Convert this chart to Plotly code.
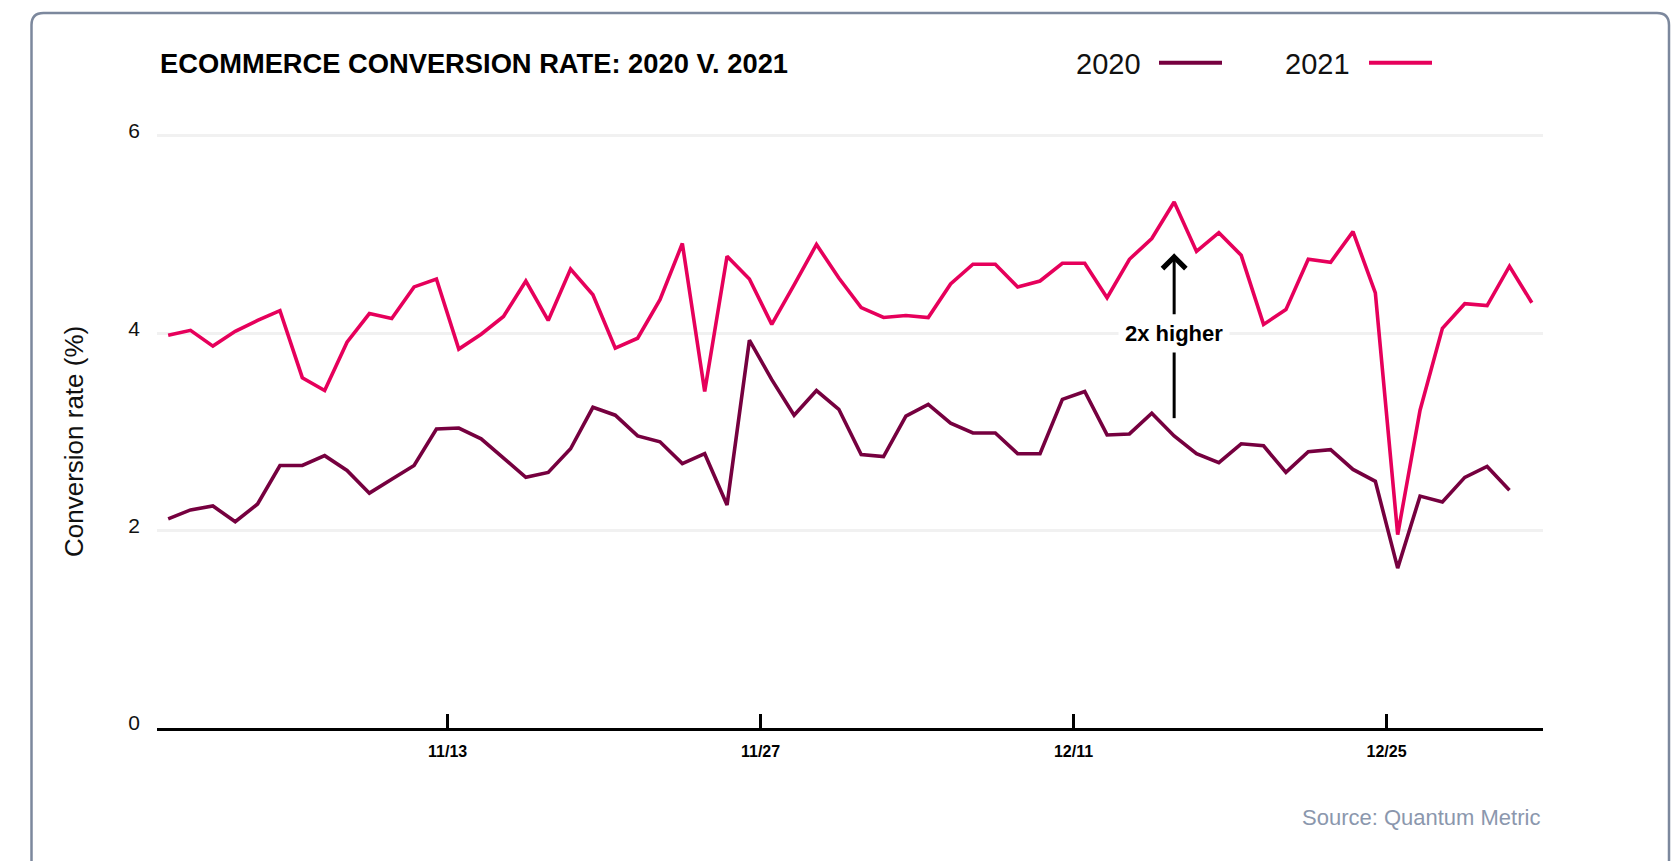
import pandas as pd
import plotly.graph_objects as go

# ---------------- data ----------------
dates = pd.date_range("2021-10-31 12:00", "2021-12-31 12:00", freq="D")

rate_2021 = [3.98, 4.03, 3.87, 4.02, 4.13, 4.23, 3.55, 3.42, 3.91, 4.20,
             4.15, 4.47, 4.55, 3.84, 3.99, 4.17, 4.53, 4.13, 4.65, 4.39,
             3.85, 3.95, 4.34, 4.91, 3.41, 4.78, 4.55, 4.09, 4.49, 4.90,
             4.56, 4.26, 4.16, 4.18, 4.16, 4.50, 4.70, 4.70, 4.47, 4.53,
             4.71, 4.71, 4.36, 4.75, 4.96, 5.33, 4.83, 5.02, 4.79, 4.09,
             4.24, 4.75, 4.72, 5.03, 4.41, 1.96, 3.22, 4.05, 4.30, 4.28,
             4.68, 4.31]

rate_2020 = [2.12, 2.21, 2.25, 2.09, 2.27, 2.66, 2.66, 2.76, 2.61, 2.38,
             2.52, 2.66, 3.03, 3.04, 2.93, 2.73, 2.54, 2.59, 2.83, 3.25,
             3.17, 2.96, 2.90, 2.68, 2.78, 2.26, 3.93, 3.53, 3.17, 3.42,
             3.23, 2.77, 2.75, 3.16, 3.28, 3.09, 2.99, 2.99, 2.78, 2.78,
             3.33, 3.41, 2.97, 2.98, 3.19, 2.96, 2.78, 2.69, 2.88, 2.86,
             2.59, 2.80, 2.82, 2.62, 2.50, 1.62, 2.35, 2.29, 2.54, 2.65,
             2.41]

tick_dates = ["2021-11-13", "2021-11-27", "2021-12-11", "2021-12-25"]
tick_labels = ["11/13", "11/27", "12/11", "12/25"]
y_ticks = [0, 2, 4, 6]

series_names = ["2020", "2021"]
series_colors = {"2020": "#76003F", "2021": "#E6005B"}

annot_index = 45          # day where the "2x higher" arrow sits
annot_from, annot_label, annot_to = 3.14, 4.0, 4.81

title_text = "ECOMMERCE CONVERSION RATE: 2020 V. 2021"
y_title = "Conversion rate (%)"
source_text = "Source: Quantum Metric"

# ---------------- layout geometry ----------------
W, H = 1678, 861
ML, MR, MT, MB = 157, 135, 131, 133
PW, PH = W - ML - MR, H - MT - MB
FONT = "Liberation Sans, Arial, Helvetica, sans-serif"


def px(xp):
    return (xp - ML) / PW


def py(yp):
    return (H - MB - yp) / PH


fig = go.Figure()
series = {"2020": rate_2020, "2021": rate_2021}
for name in series_names:
    vals = series[name]
    fig.add_trace(go.Scatter(
        x=dates[:len(vals)], y=vals, mode="lines", name=name,
        line=dict(color=series_colors[name], width=3.6),
        hoverinfo="skip", showlegend=False,
    ))

fig.update_layout(
    width=W, height=H,
    margin=dict(l=ML, r=MR, t=MT, b=MB, pad=0),
    paper_bgcolor="white", plot_bgcolor="white",
    font=dict(family=FONT, color="#111111"),
    showlegend=False,
)

fig.update_xaxes(
    type="date", range=["2021-10-31", "2022-01-01"],
    tickmode="array", tickvals=tick_dates, ticktext=tick_labels,
    ticks="inside", ticklen=14, tickwidth=3, tickcolor="#000000",
    showline=True, linecolor="#000000", linewidth=3.3,
    showgrid=False, zeroline=False,
    tickfont=dict(family=FONT, size=16, color="#000000", weight="bold"),
    ticklabelstandoff=7, fixedrange=True,
)
fig.update_yaxes(
    range=[0, 6.05], tickmode="array", tickvals=y_ticks,
    showgrid=True, gridcolor="#f1f1f1", gridwidth=2.6,
    zeroline=False, showline=False, ticks="",
    tickfont=dict(family=FONT, size=21, color="#111111"),
    ticklabelstandoff=16, ticklabelshift=-5, fixedrange=True,
)

# card border (rounded top corners, open at the bottom)
L_, T_, R_, B_, rad = 31.5, 13, 1669, 900, 12
path = (f"M {px(L_)},{py(B_)} L {px(L_)},{py(T_ + rad)} "
        f"Q {px(L_)},{py(T_)} {px(L_ + rad)},{py(T_)} "
        f"L {px(R_ - rad)},{py(T_)} "
        f"Q {px(R_)},{py(T_)} {px(R_)},{py(T_ + rad)} "
        f"L {px(R_)},{py(B_)}")
fig.add_shape(type="path", path=path, xref="paper", yref="paper",
              line=dict(color="#7c889d", width=2.5), layer="above")

# title
fig.add_annotation(text=title_text, xref="paper", yref="paper",
                   x=px(158), y=py(64), xanchor="left", yanchor="middle",
                   showarrow=False,
                   font=dict(family=FONT, size=27.3, color="#000000", weight="bold"))

# legend (text followed by line)
legend_pos = {"2020": (1143, 1159, 1222), "2021": (1352, 1369, 1432)}
for name in series_names:
    tx, l0, l1 = legend_pos[name]
    fig.add_annotation(text=name, xref="paper", yref="paper",
                       x=px(tx), y=py(64), xanchor="right", yanchor="middle",
                       showarrow=False,
                       font=dict(family=FONT, size=29, color="#111111"))
    fig.add_shape(type="line", xref="paper", yref="paper",
                  x0=px(l0), x1=px(l1), y0=py(62.7), y1=py(62.7),
                  line=dict(color=series_colors[name], width=4))

# y-axis title
fig.add_annotation(text=y_title, xref="paper", yref="paper",
                   x=px(74), y=py(442), xanchor="center", yanchor="middle",
                   textangle=-90, showarrow=False,
                   font=dict(family=FONT, size=26, color="#111111"))

# source
fig.add_annotation(text=source_text, xref="paper", yref="paper",
                   x=px(1542), y=py(817), xanchor="right", yanchor="middle",
                   showarrow=False,
                   font=dict(family=FONT, size=22, color="#8b97ad"))

# "2x higher" arrow
xd = dates[annot_index]
fig.add_shape(type="line", xref="x", yref="y",
              x0=xd, x1=xd, y0=annot_from, y1=annot_label,
              line=dict(color="#000000", width=3))
fig.add_annotation(text="2x higher", x=xd, y=annot_to, ax=xd, ay=annot_label,
                   xref="x", yref="y", axref="x", ayref="y",
                   showarrow=True, arrowhead=4, arrowsize=1.5, arrowwidth=3,
                   arrowcolor="#000000", bgcolor="white", borderpad=6,
                   font=dict(family=FONT, size=22, color="#000000", weight="bold"))

fig.write_html("out.html", config={"displayModeBar": False})
